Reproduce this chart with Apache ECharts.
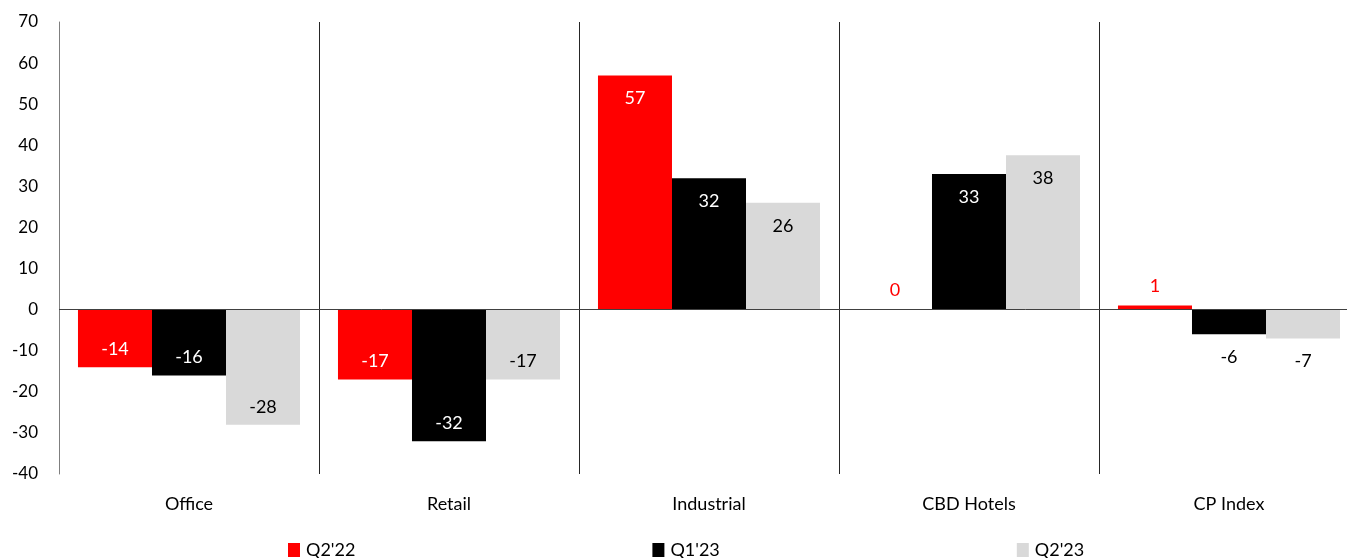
<!DOCTYPE html>
<html>
<head>
<meta charset="utf-8">
<script src="https://cdn.jsdelivr.net/npm/echarts@6/dist/echarts.min.js"></script>
<style>
  html, body { margin: 0; padding: 0; background: #fff; }
  #chart { width: 1347px; height: 558px; }
</style>
</head>
<body>
<div id="chart"></div>
<script>
// categories and series
const categories = ['Office', 'Retail', 'Industrial', 'CBD Hotels', 'CP Index'];
const seriesNames = ["Q2'22", "Q1'23", "Q2'23"];
const q222 = [-14, -17, 57, 0, 1];
const q123 = [-16, -32, 32, 33, -6];
const q223 = [-28, -17, 26, 37.6, -7];
const yTicks = [70, 60, 50, 40, 30, 20, 10, 0, -10, -20, -30, -40];

const colors = ['#ff0000', '#000000', '#d9d9d9'];
const insideColors = ['#ffffff', '#ffffff', '#000000'];
const outsideColors = ['#ff0000', '#000000', '#000000'];
const FONT = 'Lato';

// label goes inside the bar end when there is room, outside otherwise
function makeData(vals, idx) {
  return vals.map(v => {
    const small = Math.abs(v) < 10;
    let pos, dist;
    if (v >= 0) {
      pos = small ? 'top' : 'insideTop';
      dist = small ? 10 : 14;
    } else {
      pos = small ? 'bottom' : 'insideBottom';
      dist = small ? 14 : 9;
    }
    return {
      value: v,
      label: {
        position: pos,
        distance: dist,
        color: small ? outsideColors[idx] : insideColors[idx]
      }
    };
  });
}

const allVals = [q222, q123, q223];

const chart = echarts.init(document.getElementById('chart'));
const option = {
  backgroundColor: '#fff',
  animation: false,
  textStyle: { fontFamily: FONT },
  legend: {
    data: seriesNames,
    left: 283,
    top: 536,
    itemWidth: 12,
    itemHeight: 14,
    itemGap: 297,
    icon: 'rect',
    textStyle: { fontFamily: FONT, fontSize: 18, color: '#000', padding: [0, 0, 0, 1] }
  },
  grid: { left: 59, top: 22, width: 1300, height: 452, outerBoundsMode: 'none' },
  xAxis: {
    type: 'category',
    data: categories,
    boundaryGap: true,
    axisLine: { show: false },
    axisTick: { show: false },
    axisLabel: { fontFamily: FONT, fontSize: 18, color: '#000', margin: 21 },
    splitLine: { show: true, lineStyle: { color: '#262626', width: 1 } }
  },
  yAxis: {
    type: 'value',
    min: yTicks[yTicks.length - 1],
    max: yTicks[0],
    interval: 10,
    axisLine: { show: true, lineStyle: { color: '#7f7f7f', width: 1 } },
    axisTick: { show: false },
    splitLine: { show: false },
    axisLabel: { fontFamily: FONT, fontSize: 17, color: '#000', margin: 21 }
  },
  series: seriesNames.map((name, i) => ({
    name: name,
    type: 'bar',
    barGap: '0%',
    barCategoryGap: '14.6%',
    itemStyle: { color: colors[i] },
    label: {
      show: true,
      fontFamily: FONT,
      fontSize: 18,
      formatter: p => Math.round(p.value)
    },
    data: makeData(allVals[i], i),
    markLine: i === 0 ? {
      silent: true,
      symbol: 'none',
      label: { show: false },
      lineStyle: { color: '#404040', width: 1, type: 'solid' },
      data: [{ yAxis: 0 }]
    } : undefined
  }))
};
chart.setOption(option);
</script>
</body>
</html>
